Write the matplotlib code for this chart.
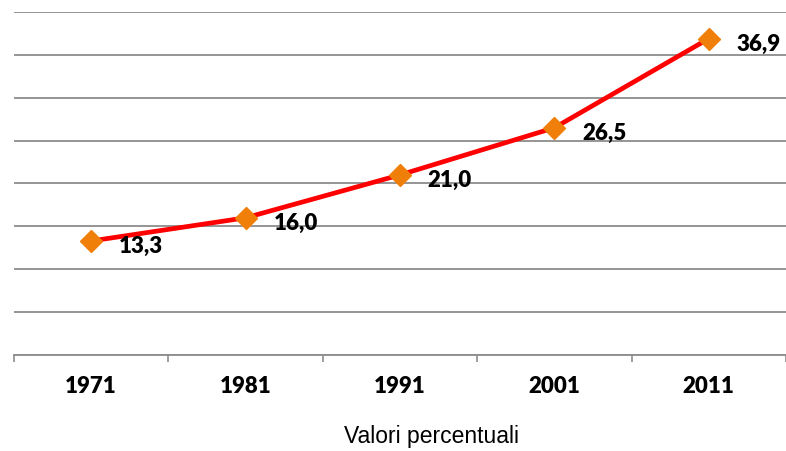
import matplotlib.pyplot as plt

# Data
anni = ['1971', '1981', '1991', '2001', '2011']
valori = [13.3, 16.0, 21.0, 26.5, 36.9]
etichette = ['13,3', '16,0', '21,0', '26,5', '36,9']

fig = plt.figure(figsize=(7.86, 4.51), dpi=100)
ax = fig.add_axes([14 / 786, 1 - 355 / 451, 1 - 14 / 786, (355 - 12) / 451])

x = list(range(len(anni)))
ax.plot(x, valori, color='#ff0000', linewidth=3.4, zorder=3)
ax.plot(x, valori, linestyle='none', marker='D', markersize=11.5,
        color='#f07f09', zorder=4)

for xi, v, lab in zip(x, valori, etichette):
    ax.annotate(lab, (xi, v), xytext=(20, -4), textcoords='offset points',
                ha='left', va='center', fontsize=16, fontweight='heavy',
                family=['Lato', 'DejaVu Sans'])

ax.set_xlim(-0.5, len(anni) - 0.5)
ax.set_ylim(0, 40)
ax.set_yticks(range(0, 41, 5))
ax.yaxis.grid(True, color='#8c8c8c', linewidth=1.3)
ax.set_axisbelow(True)
ax.tick_params(axis='y', left=False, labelleft=False)

# category boundaries as tick marks
ax.set_xticks([i - 0.5 for i in range(len(anni) + 1)])
ax.set_xticklabels([])
ax.set_xticks(x, minor=True)
ax.set_xticklabels(anni, minor=True, fontsize=16, fontweight='heavy',
                   family=['Lato', 'DejaVu Sans'])
ax.tick_params(axis='x', which='major', length=5, width=1.2, color='#8c8c8c')
ax.tick_params(axis='x', which='minor', length=0, pad=15)

for s in ['top', 'right', 'left']:
    ax.spines[s].set_visible(False)
ax.spines['bottom'].set_color('#8c8c8c')
ax.spines['bottom'].set_linewidth(1.3)

fig.text(432 / 786, 1 - 437 / 451, 'Valori percentuali', ha='center', va='center',
         fontsize=16.5, family=['Liberation Sans', 'DejaVu Sans'])

fig.savefig('out.png', dpi=100)
